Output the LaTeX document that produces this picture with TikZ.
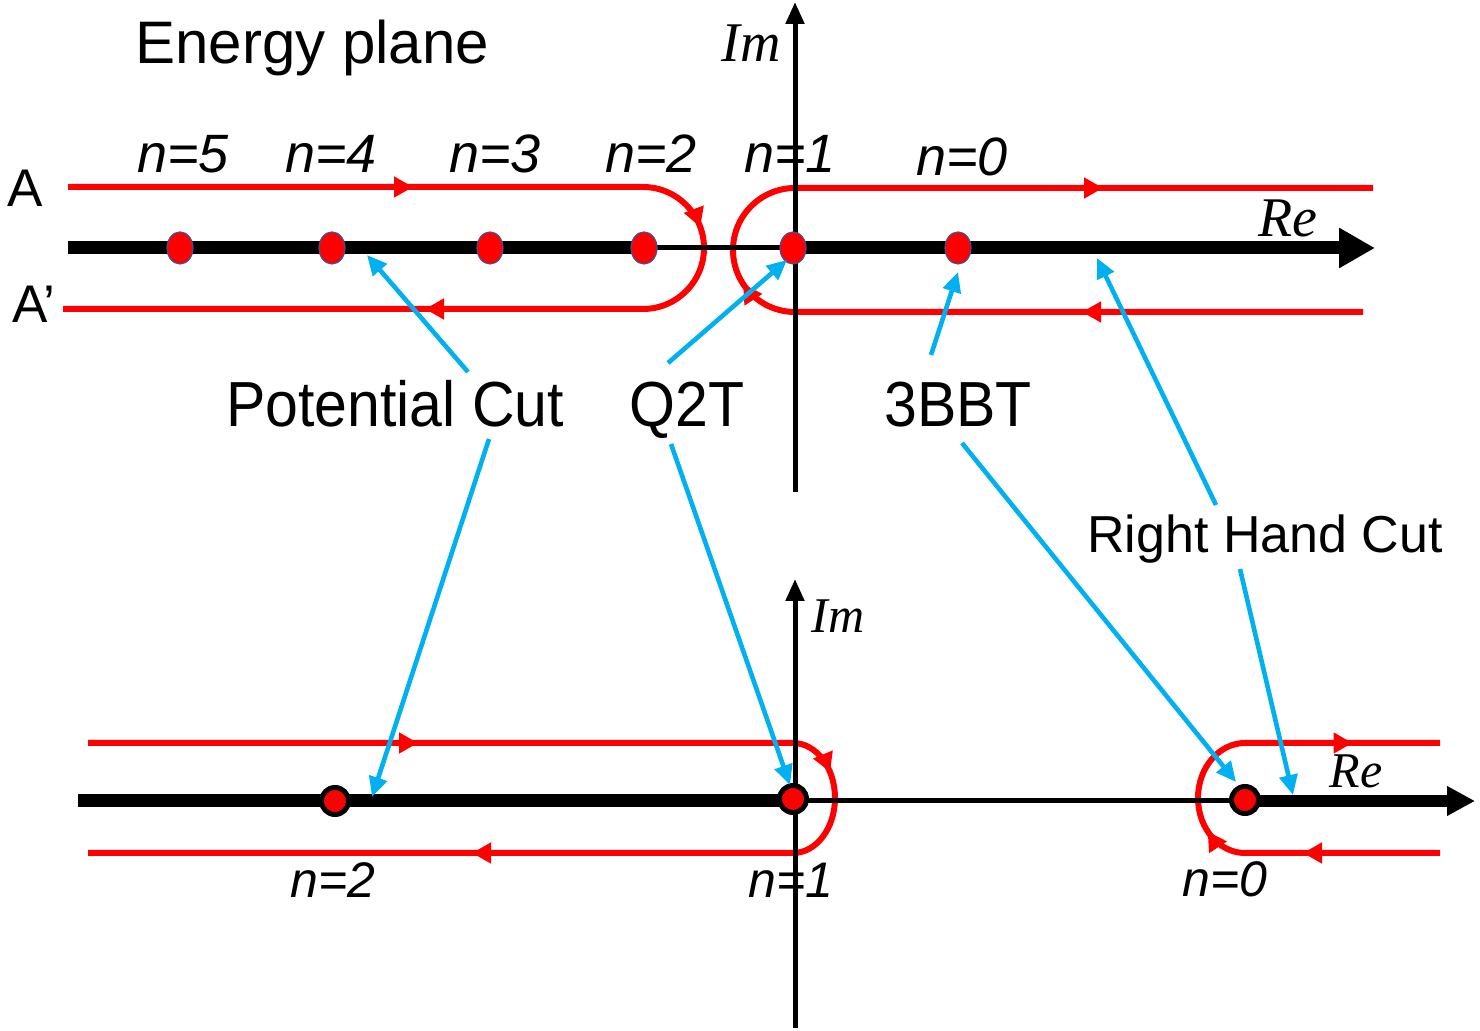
\documentclass[tikz,border=0pt]{standalone}
\usepackage{fontspec}
\usepackage{graphicx}
\setmainfont{Liberation Sans}
\newfontfamily\tms{Liberation Serif}
\usetikzlibrary{arrows.meta,shapes.geometric,decorations.markings}
\definecolor{cutblue}{RGB}{0,176,240}
\definecolor{cred}{RGB}{255,0,0}
\definecolor{dotrim}{RGB}{70,80,150}
\tikzset{
  redtip/.tip={Triangle[length=9.5pt,width=10pt]},
  contour/.style={draw=cred, line width=3pt, postaction={decorate}},
  thickaxis/.style={line width=6.5pt, black},
  thinaxis/.style={line width=2.5pt, black},
  topdot/.style={ellipse, fill=cred, draw=dotrim, line width=0.6pt, minimum width=13pt, minimum height=16pt, inner sep=0pt},
  botdot/.style={circle, fill=cred, draw=black, line width=2.5pt, minimum size=13.5pt, inner sep=0pt},
  cutarrow/.style={draw=cutblue, line width=2.3pt, -{Triangle[length=10pt,width=9pt]}},
  biglbl/.style={inner sep=0pt, anchor=base, font=\fontsize{29.5}{34}\selectfont},
  nlbl/.style={inner sep=0pt, anchor=base, font=\itshape\fontsize{27}{30}\selectfont},
  nlblb/.style={inner sep=0pt, anchor=base, font=\itshape\fontsize{25}{28}\selectfont},
  axlbl/.style={inner sep=0pt, anchor=base, font=\tms\itshape\fontsize{28}{30}\selectfont},
  axlblb/.style={inner sep=0pt, anchor=base, font=\tms\itshape\fontsize{25}{28}\selectfont},
}
\begin{document}
\begin{tikzpicture}[x=0.5pt,y=-0.5pt]
\useasboundingbox (0,0) rectangle (1480,1031);
\fill[white] (0,0) rectangle (1480,1031);

% ---------------- top contours ----------------
\draw[contour, decoration={markings,
   mark=at position 172.5pt with {\arrow{redtip}},
   mark=at position 324.7pt with {\arrow{redtip}},
   mark=at position 492.3pt with {\arrow{redtip}}}]
  (68,187) -- (643,187) arc[start angle=90, end angle=-90, radius=30.5pt] -- (63,309);
\draw[contour, decoration={markings,
   mark=at position 140.5pt with {\arrow{redtip}},
   mark=at position 314.8pt with {\arrow{redtip}},
   mark=at position 535.4pt with {\arrow{redtip}}}]
  (1363,312) -- (795,312) arc[start angle=-90, end angle=-270, radius=31pt] -- (1373,188);

% ---------------- bottom contours ----------------
\draw[contour, decoration={markings,
   mark=at position 165pt with {\arrow{redtip}},
   mark=at position 377.5pt with {\arrow{redtip}},
   mark=at position 589.5pt with {\arrow{redtip}}}]
  (88,743) -- (793,743) arc[start angle=90, end angle=-90, x radius=21pt, y radius=27.5pt] -- (88,853);
\draw[contour, decoration={markings,
   mark=at position 68.5pt with {\arrow{redtip}},
   mark=at position 120pt with {\arrow{redtip}},
   mark=at position 231.5pt with {\arrow{redtip}}}]
  (1440,853) -- (1245,853) arc[start angle=-90, end angle=-270, x radius=23.5pt, y radius=27.5pt] -- (1440,743);

% ---------------- axes ----------------
\coordinate (imT0) at (795,492);
\coordinate (imT1) at (795,2);
\coordinate (reT0) at (68,248);
\coordinate (reTa) at (645,248);
\coordinate (reTb) at (795,248);
\coordinate (reT1) at (1375,248);
\draw[thinaxis, -{Triangle[length=11pt,width=9pt]}] (imT0) -- (imT1);
\draw[thickaxis] (reT0) -- (reTa);
\draw[thinaxis] (reTa) -- (reTb);
\draw[thickaxis, -{Triangle[length=18pt,width=19pt]}] (reTb) -- (reT1);

\coordinate (imB0) at (795,1028);
\coordinate (imB1) at (795,579);
\coordinate (reB0) at (78,801);
\coordinate (reBa) at (795,801);
\coordinate (reBb) at (1245,801);
\coordinate (reB1) at (1475,801);
\draw[thinaxis, -{Triangle[length=11pt,width=9pt]}] (imB0) -- (imB1);
\draw[thickaxis] (reB0) -- (reBa);
\draw[thinaxis] (reBa) -- (reBb);
\draw[line width=6pt, -{Triangle[length=14pt,width=14pt]}] (reBb) -- (reB1);

% ---------------- poles ----------------
\node[topdot] (t5) at (180,248) {};
\node[topdot] (t4) at (332,248) {};
\node[topdot] (t3) at (490,248) {};
\node[topdot] (t2) at (644,248) {};
\node[topdot] (t1) at (793,248) {};
\node[topdot] (t0) at (958,248) {};
\node[botdot] (b2) at (335,801) {};
\node[botdot] (b1) at (793,799) {};
\node[botdot] (b0) at (1245,800) {};

% ---------------- labels ----------------
\node[inner sep=0pt, anchor=base west, font=\fontsize{30}{34}\selectfont] (title) at (135,64) {Energy plane};
\node[biglbl] (pc) at (395,427) {\scalebox{1}[1.08]{Potential Cut}};
\node[biglbl] (q2t) at (687,427) {\scalebox{1}[1.08]{Q2T}};
\node[biglbl] (bbt) at (958,427) {\scalebox{1}[1.08]{3BBT}};
\node[inner sep=0pt, anchor=base, font=\fontsize{26}{30}\selectfont] (rhc) at (1265,553) {Right Hand Cut};

\node[inner sep=0pt, anchor=base west, font=\fontsize{26.5}{30}\selectfont] (la) at (7,207) {A};
\node[inner sep=0pt, anchor=base west, font=\fontsize{26.5}{30}\selectfont] (lap) at (12,323) {A’};

\node[nlbl] (n5) at (183,173) {n=5};
\node[nlbl] (n4) at (331,173) {n=4};
\node[nlbl] (n3) at (495,173) {n=3};
\node[nlbl] (n2) at (651,173) {n=2};
\node[nlbl] (n1) at (790,173) {n=1};
\node[nlbl] (n0) at (962,176) {n=0};
\node[nlblb] (m2) at (333,898) {n=2};
\node[nlblb] (m1) at (791,898) {n=1};
\node[nlblb] (m0) at (1225,897) {n=0};

\node[axlbl] (imT) at (751,62) {Im};
\node[axlbl] (reT) at (1288,237) {Re};
\node[axlblb] (imB) at (838,633) {Im};
\node[axlblb] (reB) at (1356,788) {Re};

% ---------------- pointer arrows ----------------
\coordinate (pcU) at (468,372);
\coordinate (pcUe) at (367,255);
\coordinate (pcD) at (489,439);
\coordinate (pcDe) at (372,797);
\coordinate (qU) at (668,363);
\coordinate (qUe) at (787,260);
\coordinate (qD) at (671,444);
\coordinate (qDe) at (790,785);
\coordinate (bU) at (931,355);
\coordinate (bUe) at (958,272);
\coordinate (bD) at (962,443);
\coordinate (bDe) at (1236,782);
\coordinate (rU) at (1216,505);
\coordinate (rUe) at (1097,258);
\coordinate (rD) at (1240,569);
\coordinate (rDe) at (1293,795);
\draw[cutarrow] (pcU) -- (pcUe);
\draw[cutarrow] (pcD) -- (pcDe);
\draw[cutarrow] (qU) -- (qUe);
\draw[cutarrow] (qD) -- (qDe);
\draw[cutarrow] (bU) -- (bUe);
\draw[cutarrow] (bD) -- (bDe);
\draw[cutarrow] (rU) -- (rUe);
\draw[cutarrow] (rD) -- (rDe);
\end{tikzpicture}
\end{document}
